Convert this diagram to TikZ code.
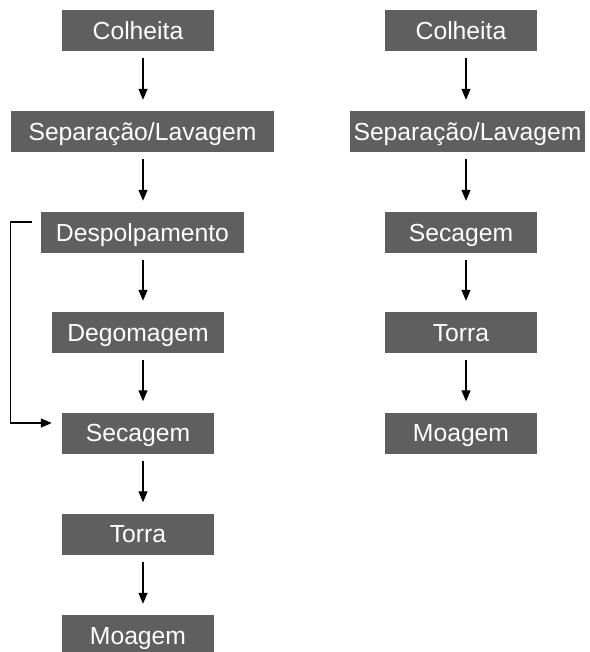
\documentclass[tikz,border=0pt]{standalone}
\usepackage{fontspec}
\setmainfont{Liberation Sans}
\usetikzlibrary{arrows.meta}
\definecolor{boxgray}{RGB}{95,95,95}

\begin{document}
\begin{tikzpicture}[x=1pt, y=1pt,
  stage/.style={fill=boxgray, text=white, inner sep=0pt, minimum height=41pt,
    text height=17.7pt, text depth=0pt, font=\fontsize{24.7}{29}\selectfont},
  link/.style={-{Triangle[width=9pt,length=11pt]}, line width=1.3pt, black},
  flow/.style={link, shorten <=7pt, shorten >=11pt}]

\useasboundingbox (0,0) rectangle (589,-652);
\clip (0,0) rectangle (589,-652);

\coordinate (axL) at (143,0);
\coordinate (axR) at (466,0);

\node[stage, minimum width=152pt] (colL) at (138,-30.5) {Colheita};
\node[stage, minimum width=263pt] (sepL) at (142.5,-131.5) {Separação/Lavagem};
\node[stage, minimum width=203pt] (despL) at (142.5,-232.5) {Despolpamento};
\node[stage, minimum width=172pt] (degL) at (138,-332.5) {Degomagem};
\node[stage, minimum width=152pt] (secL) at (138,-433) {Secagem};
\node[stage, minimum width=152pt] (torL) at (138,-534) {Torra};
\node[stage, minimum width=152pt] (moaL) at (138,-635.5) {Moagem};

\node[stage, minimum width=152pt] (colR) at (461,-30.5) {Colheita};
\node[stage, minimum width=235pt] (sepR) at (467.5,-131.5) {Separação/Lavagem};
\node[stage, minimum width=152pt] (secR) at (461,-232.5) {Secagem};
\node[stage, minimum width=152pt] (torR) at (461,-332.5) {Torra};
\node[stage, minimum width=152pt] (moaR) at (461,-433) {Moagem};

\draw[flow] (colL.south -| axL) -- (sepL.north -| axL);
\draw[flow] (sepL.south -| axL) -- (despL.north -| axL);
\draw[flow] (despL.south -| axL) -- (degL.north -| axL);
\draw[flow] (degL.south -| axL) -- (secL.north -| axL);
\draw[flow] (secL.south -| axL) -- (torL.north -| axL);
\draw[flow] (torL.south -| axL) -- (moaL.north -| axL);

\draw[link] ([xshift=-9pt,yshift=10.5pt]despL.west) -- ++(-21,0) |- ([xshift=-10pt,yshift=10pt]secL.west);

\draw[flow] (colR.south -| axR) -- (sepR.north -| axR);
\draw[flow] (sepR.south -| axR) -- (secR.north -| axR);
\draw[flow] (secR.south -| axR) -- (torR.north -| axR);
\draw[flow] (torR.south -| axR) -- (moaR.north -| axR);

\end{tikzpicture}
\end{document}
